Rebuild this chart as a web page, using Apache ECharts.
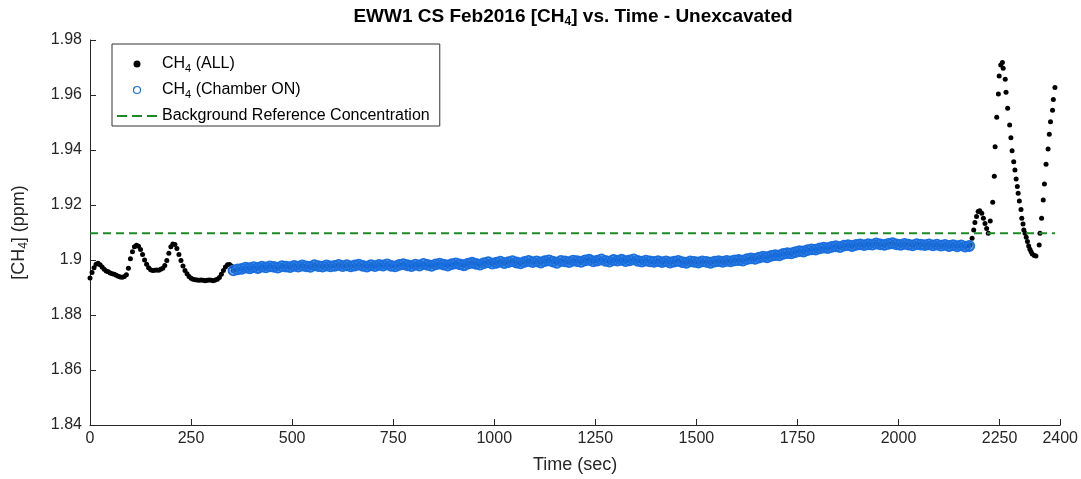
<!DOCTYPE html>
<html><head><meta charset="utf-8">
<script src="https://cdn.jsdelivr.net/npm/echarts@6/dist/echarts.min.js"></script>
<style>html,body{margin:0;padding:0;background:#fff}#c{width:1081px;height:479px}</style>
</head><body><div id="c"></div>
<script>
// ---- axis definitions ----
const xMin = 0, xMax = 2400, xStep = 250;
const yMin = 1.84, yMax = 1.98, yStep = 0.02;

// ---- CH4 (ALL): start segment, sampled every 5 s from t = 0 ----
const startTime0 = 0, startStep = 5;
const startCH4 = [
 1.8935,1.8955,1.8972,1.8985,1.8988,1.8983,1.8975,1.8966,1.8960,1.8957,
 1.8953,1.8950,1.8948,1.8945,1.8941,1.8938,1.8937,1.8940,1.8946,1.8970,
 1.9005,1.9030,1.9048,1.9054,1.9050,1.9038,1.9020,1.9000,1.8985,1.8972,
 1.8965,1.8962,1.8963,1.8964,1.8963,1.8966,1.8970,1.8980,1.8998,1.9025,
 1.9048,1.9058,1.9056,1.9042,1.9020,1.8998,1.8978,1.8962,1.8950,1.8940,
 1.8934,1.8930,1.8928,1.8927,1.8926,1.8927,1.8926,1.8925,1.8926,1.8927,
 1.8926,1.8925,1.8927,1.8930,1.8936,1.8948,1.8962,1.8975,1.8983,1.8984,
 1.8978
];

// ---- CH4 (Chamber ON): sampled every 10 s from t = 355 ----
const chamberTime0 = 355, chamberStep = 10;
const chamberCH4 = [
 1.8962,1.8966,1.8968,1.8972,1.8970,
 1.8974,1.8971,1.8976,1.8973,1.8977,1.8975,1.8972,1.8978,1.8976,1.8974,
 1.8979,1.8976,1.8980,1.8977,1.8975,1.8981,1.8978,1.8976,1.8980,1.8977,
 1.8979,1.8982,1.8978,1.8981,1.8977,1.8980,1.8983,1.8979,1.8976,1.8981,
 1.8978,1.8982,1.8980,1.8984,1.8979,1.8977,1.8982,1.8985,1.8981,1.8978,
 1.8983,1.8980,1.8986,1.8982,1.8979,1.8984,1.8987,1.8983,1.8980,1.8985,
 1.8988,1.8984,1.8981,1.8987,1.8990,1.8986,1.8983,1.8989,1.8992,1.8987,
 1.8990,1.8994,1.8989,1.8992,1.8996,1.8991,1.8988,1.8993,1.8997,1.8992,
 1.8995,1.8991,1.8996,1.8999,1.8994,1.8990,1.8997,1.8995,1.8992,1.8998,
 1.8996,1.8993,1.8999,1.9001,1.8995,1.8998,1.9002,1.8997,1.8994,1.9000,
 1.8998,1.9001,1.8996,1.8999,1.9002,1.8997,1.8994,1.8998,1.8995,1.8993,
 1.8996,1.8992,1.8995,1.8991,1.8994,1.8997,1.8992,1.8990,1.8995,1.8993,
 1.8991,1.8995,1.8993,1.8990,1.8994,1.8996,1.8993,1.8997,1.8995,1.8999,
 1.9000,1.8998,1.9003,1.9006,1.9004,1.9009,1.9012,1.9010,1.9015,1.9018,
 1.9017,1.9022,1.9025,1.9024,1.9029,1.9032,1.9031,1.9036,1.9039,1.9038,
 1.9042,1.9045,1.9043,1.9048,1.9050,1.9047,1.9052,1.9054,1.9051,1.9055,
 1.9057,1.9054,1.9058,1.9056,1.9060,1.9057,1.9055,1.9059,1.9061,1.9057,
 1.9055,1.9059,1.9056,1.9053,1.9058,1.9056,1.9054,1.9057,1.9053,1.9056,
 1.9052,1.9055,1.9051,1.9054,1.9050,1.9053,1.9049,1.9051
];

// ---- CH4 (ALL): end segment (read point by point) ----
const endTimes = [2177,2182,2186,2189,2193,2197,2201,2206,2210,2214,2218,2222,2227,2233,2237,2239,2243,2247,2249,2253,
 2257,2259,2264,2266,2270,2275,2278,2281,2285,2288,2291,2294,2296,2299,2303,2305,2308,2310,2313,2316,
 2319,2322,2325,2328,2331,2336,2340,2348,2350,2354,2358,2361,2365,2370,2373,2376,2381,2383,2387];
const endCH4 = [1.9055,1.9079,1.9109,1.9136,1.9158,1.9176,1.9179,1.9170,1.9152,1.9133,1.9115,1.9097,1.9142,1.9210,1.9305,1.9412,1.9519,1.9604,1.9669,1.9709,
 1.9718,1.9697,1.9657,1.9610,1.9552,1.9491,1.9445,1.9397,1.9357,1.9327,1.9295,1.9267,1.9243,1.9215,1.9184,1.9152,1.9131,1.9109,1.9097,1.9083,
 1.9067,1.9051,1.9039,1.9030,1.9022,1.9016,1.9015,1.9055,1.9097,1.9152,1.9218,1.9276,1.9348,1.9404,1.9457,1.9503,1.9545,1.9584,1.9627];

// ---- background reference ----
const backgroundCH4 = 1.9097;
const backgroundSpan = [0, 2387];

const seriesNames = ['CH4 (ALL)', 'CH4 (Chamber ON)', 'Background Reference Concentration'];

// build point lists
const startPts = startCH4.map((v, i) => [startTime0 + i * startStep, v]);
const chamberPts = chamberCH4.map((v, i) => [chamberTime0 + i * chamberStep, v]);
const endPts = endCH4.map((v, i) => [endTimes[i], v]);
const allPts = startPts.concat(chamberPts, endPts);
const bgPts = backgroundSpan.map(t => [t, backgroundCH4]);

const FONT = '"Liberation Sans", Arial, Helvetica, sans-serif';
const AX = '#262626';
const BLUE = '#1a6fdf';
const GREEN = '#1d8a26';

const chart = echarts.init(document.getElementById('c'), null, {renderer: 'canvas'});
chart.setOption({
  animation: false,
  backgroundColor: '#fff',
  title: {
    text: '{b|EWW1 CS Feb2016 [CH}{bs|4}{b|] vs. Time - Unexcavated}',
    left: 573, top: 6, padding: 0, textAlign: 'center',
    textStyle: {
      rich: {
        b: {fontFamily: FONT, fontSize: 19, fontWeight: 'bold', color: '#000', lineHeight: 22},
        bs: {fontFamily: FONT, fontSize: 12, fontWeight: 'bold', color: '#000', lineHeight: 22, padding: [10, 0, 0, 0]}
      }
    }
  },
  legend: {
    orient: 'vertical', left: 112, top: 44,
    padding: [10, 7, 0, 4], itemGap: 6,
    itemWidth: 40, itemHeight: 7,
    borderColor: '#333', borderWidth: 1, backgroundColor: '#fff',
    selectedMode: false,
    data: [
      {name: seriesNames[0], icon: 'circle', itemStyle: {color: '#000', borderWidth: 0, opacity: 1}},
      {name: seriesNames[1], icon: 'circle', itemStyle: {color: '#fff', borderColor: BLUE, borderWidth: 1.2, opacity: 1}},
      {name: seriesNames[2], itemStyle: {color: 'transparent', borderColor: 'transparent', borderWidth: 0},
       lineStyle: {color: GREEN, width: 2, type: [10, 5]}}
    ],
    formatter: n => n.startsWith('CH4') ? '{a|CH}{s|4}{a|' + n.slice(3) + '}' : '{a|' + n + '}{s| }',
    textStyle: {
      rich: {
        a: {fontFamily: FONT, fontSize: 16, color: '#000', lineHeight: 24},
        s: {fontFamily: FONT, fontSize: 11, color: '#000', lineHeight: 24, padding: [9, 0, 0, 0]}
      }
    }
  },
  grid: {left: 90, right: 20, top: 40, bottom: 54},
  xAxis: {
    type: 'value', min: xMin, max: xMax, interval: xStep,
    name: 'Time (sec)', nameLocation: 'middle', nameGap: 31,
    nameTextStyle: {fontFamily: FONT, fontSize: 18, color: AX},
    axisLine: {show: true, onZero: false, lineStyle: {color: AX, width: 1}},
    axisTick: {show: true, inside: true, length: 6, lineStyle: {color: AX}},
    axisLabel: {fontFamily: FONT, fontSize: 16, color: AX, margin: 6, formatter: v => String(v)},
    splitLine: {show: false}
  },
  yAxis: {
    type: 'value', min: yMin, max: yMax, interval: yStep,
    name: '{a|[CH}{s|4}{a|] (ppm)}', nameLocation: 'middle', nameGap: 60,
    nameTextStyle: {
      rich: {
        a: {fontFamily: FONT, fontSize: 18, color: AX, lineHeight: 22},
        s: {fontFamily: FONT, fontSize: 12, color: AX, lineHeight: 22, padding: [10, 0, 0, 0]}
      }
    },
    axisLine: {show: true, onZero: false, lineStyle: {color: AX, width: 1}},
    axisTick: {show: true, inside: true, length: 6, lineStyle: {color: AX}},
    axisLabel: {fontFamily: FONT, fontSize: 16, color: AX, margin: 8,
      formatter: v => String(Math.round(v * 100) / 100)},
    splitLine: {show: false}
  },
  series: [
    {
      name: seriesNames[0], type: 'scatter', data: allPts,
      symbol: 'circle', symbolSize: 5,
      itemStyle: {color: '#000', opacity: 1}, silent: true, z: 2
    },
    {
      name: seriesNames[1], type: 'scatter', data: chamberPts,
      symbol: 'circle', symbolSize: 10,
      itemStyle: {color: 'rgba(26,111,223,0.6)', borderColor: BLUE, borderWidth: 1.8, opacity: 1}, silent: true, z: 3
    },
    {
      name: seriesNames[2], type: 'line', data: bgPts,
      symbol: 'none', lineStyle: {color: GREEN, width: 2, type: [8, 5]},
      itemStyle: {color: GREEN}, silent: true, z: 4
    }
  ]
});
</script>
</body></html>
